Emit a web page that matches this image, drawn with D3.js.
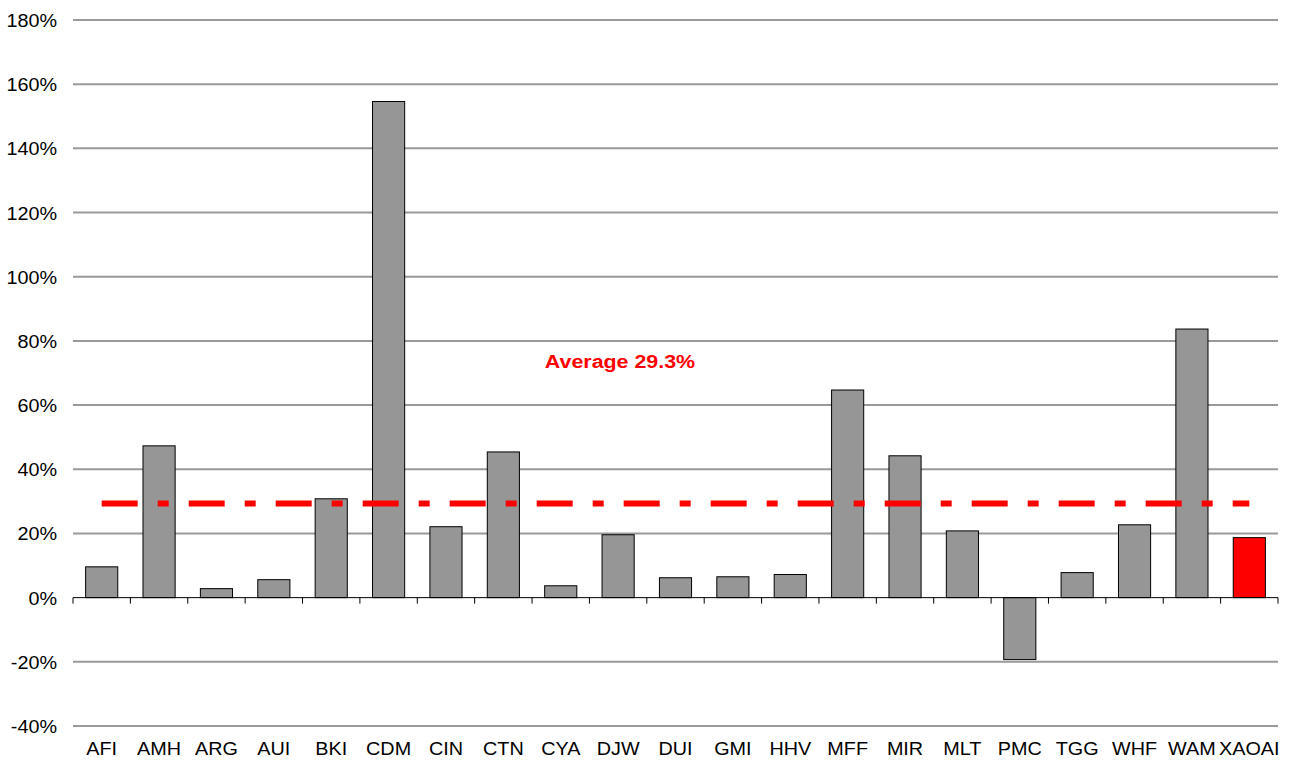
<!DOCTYPE html>
<html>
<head>
<meta charset="utf-8">
<script src="https://cdn.jsdelivr.net/npm/d3@7"></script>
<style>
  body { margin: 0; background: #fff; }
  text { font-family: "Liberation Sans", Arial, sans-serif; }
</style>
</head>
<body>
<svg id="chart" width="1290" height="763"></svg>
<script>
const categories = ["AFI", "AMH", "ARG", "AUI", "BKI", "CDM", "CIN", "CTN", "CYA", "DJW", "DUI",
  "GMI", "HHV", "MFF", "MIR", "MLT", "PMC", "TGG", "WHF", "WAM", "XAOAI"];
const values = [9.6, 47.3, 2.8, 5.6, 30.8, 154.6, 22.1, 45.4, 3.7, 19.6, 6.2,
  6.5, 7.2, 64.7, 44.2, 20.8, -19.3, 7.8, 22.7, 83.7, 18.7];
const highlight = "XAOAI";
const average = 29.3;
const yTicks = [-40, -20, 0, 20, 40, 60, 80, 100, 120, 140, 160, 180];

const svg = d3.select("#chart");
const plotLeft = 73, plotRight = 1278, plotTop = 20, plotBottom = 726;

const x = d3.scaleBand().domain(categories).range([plotLeft, plotRight]).paddingInner(0.44).paddingOuter(0.22);
const y = d3.scaleLinear().domain([-40, 180]).range([plotBottom, plotTop]);

// the source chart's text is a bit wider than Arial, so stretch it horizontally
const stretch = 1.1;

// gridlines
svg.append("g").selectAll("line")
  .data(yTicks.filter(d => d !== 0))
  .enter().append("line")
  .attr("x1", plotLeft).attr("x2", plotRight)
  .attr("y1", d => y(d)).attr("y2", d => y(d))
  .attr("stroke", "#999").attr("stroke-width", 2);

// y labels
svg.append("g").selectAll("text")
  .data(yTicks)
  .enter().append("text")
  .attr("transform", d => "translate(57," + (y(d) + 7) + ") scale(" + stretch + ",1)")
  .attr("text-anchor", "end")
  .attr("font-size", 18)
  .attr("fill", "#000")
  .text(d => d + "%");

// bars
svg.append("g").selectAll("rect")
  .data(categories)
  .enter().append("rect")
  .attr("x", d => x(d))
  .attr("width", x.bandwidth())
  .attr("y", (d, i) => y(Math.max(0, values[i])))
  .attr("height", (d, i) => Math.abs(y(values[i]) - y(0)))
  .attr("fill", d => d === highlight ? "#ff0000" : "#969696")
  .attr("stroke", "#000").attr("stroke-width", 1);

// zero axis with ticks between categories
const step = x.step();
svg.append("line")
  .attr("x1", plotLeft).attr("x2", plotRight)
  .attr("y1", y(0)).attr("y2", y(0))
  .attr("stroke", "#000").attr("stroke-width", 1);
svg.append("g").selectAll("line")
  .data(d3.range(categories.length + 1))
  .enter().append("line")
  .attr("x1", i => plotLeft + i * step).attr("x2", i => plotLeft + i * step)
  .attr("y1", y(0)).attr("y2", y(0) + 6)
  .attr("stroke", "#000").attr("stroke-width", 1);

// x labels
svg.append("g").selectAll("text")
  .data(categories)
  .enter().append("text")
  .attr("transform", d => "translate(" + (x(d) + x.bandwidth() / 2) + ",755) scale(" + stretch + ",1)")
  .attr("text-anchor", "middle")
  .attr("font-size", 18)
  .attr("fill", "#000")
  .text(d => d);

// average line
const first = categories[0], last = categories[categories.length - 1];
svg.append("line")
  .attr("x1", x(first) + x.bandwidth() / 2)
  .attr("x2", x(last) + x.bandwidth() / 2)
  .attr("y1", y(average)).attr("y2", y(average))
  .attr("stroke", "#ff0000").attr("stroke-width", 6)
  .attr("stroke-dasharray", "36,20,11,20");

svg.append("text")
  .attr("transform", "translate(620,368) scale(1.19,1)")
  .attr("text-anchor", "middle")
  .attr("font-size", 18)
  .attr("font-weight", "bold")
  .attr("fill", "#ff0000")
  .text("Average " + average + "%");
</script>
</body>
</html>
